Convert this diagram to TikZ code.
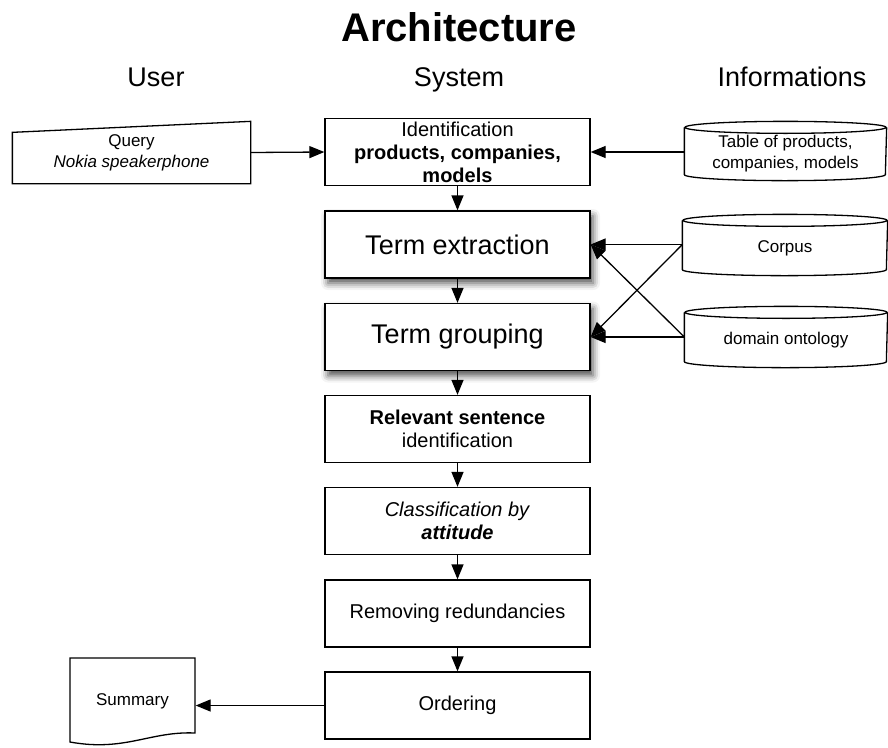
\documentclass[tikz,border=0pt]{standalone}
\usepackage{fontspec}
\setmainfont{Liberation Sans}
\usetikzlibrary{arrows.meta,shadows.blur,calc}
\newcommand\cylout[2]{%
  \draw (#1.north west) -- ([yshift=6pt]#1.south west)
    arc[start angle=180,end angle=360,x radius=#2,y radius=6pt]
    -- (#1.north east);
  \draw (#1.north) ellipse [x radius=#2, y radius=6pt];}
\begin{document}
\begin{tikzpicture}[x=1pt,y=-1pt,
  line width=1.3pt,
  arr/.style={-{Triangle[length=15pt,width=12pt]}},
  proc/.style={draw, fill=white, minimum width=265pt, minimum height=67pt, inner sep=0pt, align=center, font=\fontsize{20}{23}\selectfont},
  bigproc/.style={proc, font=\fontsize{27}{31}\selectfont, blur shadow={shadow xshift=3pt, shadow yshift=-5pt, shadow blur radius=7pt, shadow opacity=70}},
  head/.style={font=\fontsize{27}{31}\selectfont, anchor=base},
  small/.style={font=\fontsize{17}{21}\selectfont, align=center, inner sep=0pt},
]
\useasboundingbox (0,0) rectangle (888,747);
\node[font=\fontsize{40}{46}\selectfont\bfseries, anchor=base] (title) at (459,41) {Architecture};
\node[head] (user) at (156,86) {User};
\node[head] (sys) at (459,86) {System};
\node[head] (info) at (792,86) {Informations};

\node[proc] (ident) at (457.5,152) {Identification\\\textbf{products, companies,}\\\textbf{models}};
\node[bigproc] (te) at (457.5,244.5) {Term extraction};
\node[bigproc] (tg) at (457.5,337) {Term grouping};
\node[proc] (rel) at (457.5,429) {\textbf{Relevant sentence}\\identification};
\node[proc] (cls) at (457.5,521) {\textit{Classification by}\\\textbf{\textit{attitude}}};
\node[proc] (rem) at (457.5,613.5) {Removing redundancies};
\node[proc] (ord) at (457.5,705.5) {Ordering};

\node[small, minimum width=237pt, minimum height=61pt] (query) at (131.5,152.5) {Query\\\textit{Nokia speakerphone}};
\draw (query.south west) -- ([yshift=-11pt]query.north west) -- (query.north east) -- (query.south east) -- cycle;

\node[small, minimum width=201pt, minimum height=52pt] (tab) at (785.5,154) {Table of products,\\companies, models};
\cylout{tab}{100.5pt}
\node[small, minimum width=204pt, minimum height=54pt] (corpus) at (785,248) {Corpus};
\cylout{corpus}{102pt}
\node[small, minimum width=202pt, minimum height=54pt] (onto) at (786,340) {domain ontology};
\cylout{onto}{101pt}

\node[small, minimum width=125pt, minimum height=87pt] (sum) at (132.5,701.5) {Summary};
\draw (70,658) -- (195,658) -- (195,733) .. controls (150,731) and (125,752) .. (70,742) -- cycle;

\draw[arr] (query.east) -- (ident.west);
\draw[arr] (tab.west |- ident.east) -- (ident.east);
\draw[arr] (ident.south) -- (te.north);
\draw[arr] (te.south) -- (tg.north);
\draw[arr] (tg.south) -- (rel.north);
\draw[arr] (rel.south) -- (cls.north);
\draw[arr] (cls.south) -- (rem.north);
\draw[arr] (rem.south) -- (ord.north);
\coordinate (cw) at (corpus.west |- te.east);
\coordinate (ow) at (onto.west |- tg.east);
\draw[arr] (cw) -- (te.east);
\draw[arr] (cw) -- (tg.east);
\draw[arr] (ow) -- (tg.east);
\draw[arr] (ow) -- (te.east);
\draw[arr] (ord.west) -- (ord.west -| sum.east);
\end{tikzpicture}
\end{document}
